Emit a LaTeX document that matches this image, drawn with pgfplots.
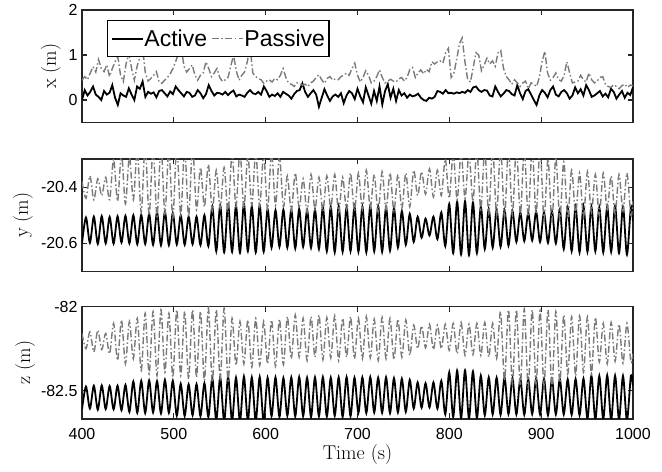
\documentclass[border=0pt]{standalone}
\usepackage{fontspec}
\newfontfamily\arial{Liberation Sans}
\usepackage{pgfplots}
\usepackage{pgfplotstable}
\pgfplotsset{compat=1.18}
\definecolor{axgray}{rgb}{0.15,0.15,0.15}
\definecolor{pgray}{rgb}{0.48,0.48,0.48}

\pgfplotstableread{
t xa xp
400 0.00 0.44
403 0.22 0.52
406 0.10 0.45
409 0.18 0.60
412 0.30 0.74
415 0.12 0.62
418 0.07 0.90
421 0.00 0.70
424 0.20 0.63
427 0.12 0.78
430 0.16 0.52
433 0.33 0.70
436 0.05 0.85
439 -0.11 0.96
442 0.15 0.55
445 0.10 0.41
448 0.07 0.80
451 0.26 1.04
454 0.12 0.70
457 0.00 0.44
460 0.30 0.75
463 0.25 0.95
466 0.41 1.15
469 0.07 0.60
472 0.18 0.42
475 0.14 0.48
478 0.17 0.55
481 0.06 0.63
484 0.20 0.40
487 0.22 0.37
490 0.15 0.44
493 0.08 0.50
496 0.19 0.58
499 0.13 0.70
502 0.30 0.85
505 0.22 1.05
508 0.15 1.19
511 0.08 0.75
514 0.18 0.62
517 0.16 0.70
520 0.07 0.78
523 0.10 0.55
526 0.22 0.44
529 0.15 0.55
532 0.04 0.60
535 0.13 0.85
538 0.33 0.70
541 0.20 0.52
544 0.10 0.60
547 0.16 0.70
550 0.15 0.50
553 0.12 0.41
556 0.18 0.45
559 0.11 0.50
562 0.17 0.75
565 0.21 1.00
568 0.08 0.65
571 0.12 0.44
574 0.10 0.55
577 0.07 0.62
580 0.16 0.85
583 0.22 1.19
586 0.15 0.60
589 0.13 0.52
592 0.18 0.48
595 0.12 0.45
598 0.30 0.37
601 0.20 0.42
604 0.07 0.45
607 0.12 0.40
610 0.09 0.48
613 0.15 0.45
616 0.07 0.55
619 0.18 0.70
622 0.14 0.50
625 0.10 0.37
628 0.03 0.35
631 0.13 0.30
634 0.20 0.38
637 0.22 0.37
640 0.37 0.33
643 0.18 0.35
646 0.07 0.30
649 0.15 0.38
652 0.22 0.42
655 0.12 0.50
658 -0.15 0.56
661 0.05 0.45
664 0.24 0.37
667 0.10 0.48
670 -0.02 0.52
673 0.08 0.44
676 0.12 0.47
679 0.07 0.45
682 0.15 0.52
685 -0.07 0.55
688 0.10 0.60
691 0.20 0.55
694 0.15 0.70
697 0.02 0.82
700 0.25 0.55
703 0.08 0.40
706 -0.05 0.50
709 0.28 0.65
712 0.10 0.55
715 -0.08 0.38
718 0.20 0.42
721 -0.02 0.52
724 0.30 0.67
727 -0.10 0.50
730 0.20 0.38
733 0.35 0.42
736 0.05 0.46
739 0.25 0.42
742 -0.02 0.40
745 0.22 0.47
748 0.10 0.50
751 0.15 0.42
754 0.05 0.50
757 0.12 0.68
760 0.08 0.72
763 0.10 0.50
766 0.14 0.60
769 0.05 0.67
772 0.00 0.58
775 -0.02 0.68
778 0.05 0.63
781 0.03 0.85
784 0.07 0.80
787 0.20 0.85
790 0.18 0.87
793 0.14 0.82
796 0.22 1.05
799 0.15 1.15
802 0.16 0.50
805 0.14 0.60
808 0.17 0.90
811 0.15 1.25
814 0.18 1.38
817 0.16 0.85
820 0.22 0.45
823 0.18 0.40
826 0.28 0.72
829 0.30 1.05
832 0.22 1.00
835 0.18 0.65
838 0.22 0.78
841 0.21 0.93
844 0.10 0.80
847 0.08 0.87
850 0.30 0.75
853 0.18 1.05
856 0.08 1.10
859 0.14 0.70
862 0.22 0.52
865 0.20 0.45
868 0.13 0.35
871 0.10 0.45
874 0.33 0.38
877 0.15 0.30
880 0.02 0.38
883 0.20 0.42
886 0.24 0.25
889 0.12 0.38
892 0.00 0.35
895 -0.11 0.30
898 0.10 0.50
901 0.22 0.85
904 0.16 1.08
907 0.06 0.60
910 0.22 0.44
913 0.30 0.50
916 0.12 0.60
919 0.08 0.45
922 0.18 0.42
925 0.22 0.55
928 0.15 0.85
931 0.03 0.60
934 0.10 0.38
937 0.28 0.40
940 0.15 0.42
943 0.24 0.55
946 0.10 0.45
949 0.33 0.40
952 0.22 0.60
955 0.07 0.45
958 0.10 0.38
961 0.15 0.42
964 0.20 0.50
967 0.08 0.52
970 0.14 0.35
973 0.06 0.30
976 0.25 0.28
979 0.18 0.34
982 0.03 0.30
985 0.12 0.25
988 0.20 0.32
991 0.05 0.35
994 0.16 0.28
997 0.11 0.33
1000 0.28 0.32
}\tabX

\pgfplotstableread{
t ya yp za zp
400.0 -20.600 -20.380 -82.610 -82.160
404.3 -20.508 -20.440 -82.475 -82.250
408.6 -20.598 -20.360 -82.605 -82.150
412.9 -20.505 -20.445 -82.470 -82.270
417.2 -20.602 -20.370 -82.612 -82.140
421.5 -20.503 -20.430 -82.468 -82.255
425.8 -20.600 -20.365 -82.608 -82.160
430.1 -20.506 -20.445 -82.472 -82.280
434.4 -20.601 -20.300 -82.610 -82.100
438.7 -20.504 -20.450 -82.470 -82.320
443.0 -20.597 -20.280 -82.615 -82.080
447.3 -20.502 -20.460 -82.465 -82.340
451.6 -20.600 -20.290 -82.625 -82.090
455.9 -20.500 -20.445 -82.445 -82.310
460.2 -20.603 -20.270 -82.630 -82.070
464.5 -20.498 -20.490 -82.440 -82.380
468.8 -20.602 -20.250 -82.632 -82.040
473.1 -20.495 -20.500 -82.438 -82.400
477.4 -20.605 -20.260 -82.628 -82.030
481.7 -20.490 -20.505 -82.442 -82.410
486.0 -20.607 -20.250 -82.634 -82.020
490.3 -20.488 -20.495 -82.435 -82.390
494.6 -20.606 -20.265 -82.630 -82.040
498.9 -20.492 -20.510 -82.440 -82.420
503.2 -20.604 -20.250 -82.648 -82.020
507.5 -20.500 -20.500 -82.458 -82.410
511.8 -20.605 -20.260 -82.650 -82.030
516.1 -20.505 -20.505 -82.462 -82.430
520.4 -20.603 -20.255 -82.645 -82.020
524.7 -20.505 -20.480 -82.460 -82.420
529.0 -20.606 -20.330 -82.650 -82.030
533.3 -20.500 -20.470 -82.455 -82.440
537.6 -20.610 -20.320 -82.655 -82.010
541.9 -20.470 -20.485 -82.425 -82.450
546.2 -20.628 -20.340 -82.675 -82.020
550.5 -20.465 -20.475 -82.420 -82.430
554.8 -20.632 -20.330 -82.680 -82.010
559.1 -20.462 -20.490 -82.418 -82.440
563.4 -20.630 -20.280 -82.678 -82.070
567.7 -20.466 -20.470 -82.422 -82.350
572.0 -20.634 -20.270 -82.682 -82.090
576.3 -20.460 -20.475 -82.415 -82.340
580.6 -20.628 -20.285 -82.676 -82.080
584.9 -20.468 -20.465 -82.420 -82.360
589.2 -20.632 -20.275 -82.680 -82.070
593.5 -20.465 -20.470 -82.418 -82.350
597.8 -20.630 -20.280 -82.685 -82.090
602.1 -20.478 -20.480 -82.422 -82.340
606.4 -20.615 -20.275 -82.650 -82.080
610.7 -20.482 -20.465 -82.420 -82.355
615.0 -20.612 -20.290 -82.655 -82.075
619.3 -20.480 -20.470 -82.424 -82.345
623.6 -20.615 -20.360 -82.648 -82.060
627.9 -20.480 -20.485 -82.420 -82.310
632.2 -20.618 -20.350 -82.652 -82.050
636.5 -20.478 -20.475 -82.418 -82.300
640.8 -20.612 -20.370 -82.650 -82.070
645.1 -20.482 -20.490 -82.422 -82.320
649.4 -20.616 -20.355 -82.655 -82.060
653.7 -20.480 -20.480 -82.420 -82.300
658.0 -20.620 -20.365 -82.650 -82.050
662.3 -20.472 -20.485 -82.418 -82.315
666.6 -20.628 -20.360 -82.652 -82.065
670.9 -20.470 -20.475 -82.422 -82.305
675.2 -20.632 -20.355 -82.648 -82.055
679.5 -20.468 -20.490 -82.420 -82.320
683.8 -20.630 -20.365 -82.655 -82.070
688.1 -20.472 -20.480 -82.418 -82.300
692.4 -20.628 -20.350 -82.650 -82.060
696.7 -20.470 -20.485 -82.422 -82.310
701.0 -20.630 -20.350 -82.630 -82.070
705.3 -20.470 -20.480 -82.420 -82.310
709.6 -20.632 -20.340 -82.632 -82.060
713.9 -20.468 -20.475 -82.418 -82.305
718.2 -20.628 -20.355 -82.628 -82.075
722.5 -20.470 -20.490 -82.422 -82.320
726.8 -20.630 -20.345 -82.630 -82.065
731.1 -20.472 -20.480 -82.420 -82.310
735.4 -20.626 -20.350 -82.632 -82.070
739.7 -20.475 -20.485 -82.425 -82.315
744.0 -20.615 -20.355 -82.628 -82.075
748.3 -20.485 -20.475 -82.428 -82.300
752.6 -20.605 -20.350 -82.625 -82.080
756.9 -20.495 -20.470 -82.435 -82.290
761.2 -20.595 -20.340 -82.605 -82.110
765.5 -20.505 -20.430 -82.450 -82.250
769.8 -20.580 -20.345 -82.600 -82.115
774.1 -20.512 -20.425 -82.455 -82.245
778.4 -20.572 -20.335 -82.598 -82.105
782.7 -20.505 -20.435 -82.450 -82.255
787.0 -20.585 -20.340 -82.605 -82.110
791.3 -20.490 -20.430 -82.440 -82.250
795.6 -20.610 -20.300 -82.640 -82.105
799.9 -20.460 -20.440 -82.390 -82.260
804.2 -20.635 -20.280 -82.655 -82.100
808.5 -20.452 -20.445 -82.380 -82.280
812.8 -20.640 -20.275 -82.662 -82.095
817.1 -20.450 -20.440 -82.378 -82.290
821.4 -20.642 -20.280 -82.665 -82.105
825.7 -20.455 -20.450 -82.385 -82.285
830.0 -20.635 -20.270 -82.660 -82.100
834.3 -20.470 -20.480 -82.410 -82.290
838.6 -20.620 -20.265 -82.645 -82.095
842.9 -20.478 -20.495 -82.420 -82.300
847.2 -20.615 -20.260 -82.640 -82.100
851.5 -20.480 -20.500 -82.422 -82.310
855.8 -20.612 -20.255 -82.642 -82.030
860.1 -20.482 -20.505 -82.420 -82.440
864.4 -20.608 -20.260 -82.638 -82.020
868.7 -20.485 -20.500 -82.425 -82.460
873.0 -20.595 -20.255 -82.640 -82.020
877.3 -20.490 -20.500 -82.430 -82.470
881.6 -20.592 -20.265 -82.642 -82.015
885.9 -20.492 -20.505 -82.432 -82.480
890.2 -20.590 -20.260 -82.638 -82.020
894.5 -20.488 -20.495 -82.428 -82.460
898.8 -20.595 -20.255 -82.640 -82.025
903.1 -20.490 -20.515 -82.430 -82.470
907.4 -20.598 -20.300 -82.645 -82.020
911.7 -20.486 -20.520 -82.432 -82.480
916.0 -20.600 -20.295 -82.640 -82.030
920.3 -20.480 -20.515 -82.430 -82.450
924.6 -20.620 -20.310 -82.640 -82.050
928.9 -20.472 -20.510 -82.432 -82.400
933.2 -20.628 -20.340 -82.642 -82.060
937.5 -20.470 -20.495 -82.430 -82.410
941.8 -20.632 -20.350 -82.645 -82.055
946.1 -20.468 -20.505 -82.428 -82.390
950.4 -20.630 -20.345 -82.665 -82.060
954.7 -20.470 -20.490 -82.410 -82.400
959.0 -20.628 -20.355 -82.670 -82.065
963.3 -20.472 -20.500 -82.412 -82.330
967.6 -20.632 -20.350 -82.668 -82.100
971.9 -20.470 -20.480 -82.408 -82.340
976.2 -20.630 -20.360 -82.672 -82.095
980.5 -20.468 -20.495 -82.410 -82.325
984.8 -20.635 -20.355 -82.670 -82.105
989.1 -20.470 -20.485 -82.412 -82.335
993.4 -20.640 -20.350 -82.675 -82.100
997.7 -20.472 -20.500 -82.410 -82.330
1000.0 -20.520 -20.450 -82.470 -82.280
}\tabYZ

\pgfplotsset{
  myaxis/.style={
    scale only axis, width=551bp, height=112.5bp,
    anchor=south west,
    xmin=400, xmax=1000, xtick={400,500,600,700,800,900,1000},
    tick align=inside, xtick pos=both, ytick pos=both,
    major tick length=5.5bp,
    axis line style={axgray, line width=1.3bp},
    every tick/.style={axgray, line width=1.1bp},
    tick label style={font=\arial\fontsize{16bp}{18bp}\selectfont},
    xticklabel style={yshift=-6bp},
    yticklabel style={xshift=-1bp},
    label style={font=\fontsize{20bp}{23bp}\selectfont},
  },
  act/.style={black, line width=1.8bp},
  pas/.style={pgray, line width=1.4bp, dash pattern=on 7bp off 2.5bp on 1.5bp off 2.5bp},
}

\begin{document}
\begin{tikzpicture}
\path[use as bounding box] (0,0) rectangle (662bp,472bp);
\begin{axis}[myaxis, at={(82bp,349.5bp)},
  ymin=-0.5, ymax=2, ytick={0,1,2}, yticklabels={0,1,2}, xticklabels={},
  ylabel={x (m)}, ylabel style={at={(axis description cs:-0.0563,0.5)}, anchor=center},
  legend columns=2,
  legend image code/.code={\draw[#1] (0bp,0bp) -- (31bp,0bp);},
  legend style={at={(axis description cs:0.0454,0.911)}, anchor=north west,
    font=\arial\fontsize{23bp}{26bp}\selectfont, draw=black, line width=1.3bp,
    inner xsep=3bp, inner ysep=2bp,
    nodes={inner xsep=1bp, inner ysep=7bp},
    /tikz/every even column/.append style={column sep=3bp}},
]
\addplot[act] table[x=t,y=xa]{\tabX};
\addplot[pas] table[x=t,y=xp]{\tabX};
\legend{Active,Passive}
\end{axis}
\begin{axis}[myaxis, at={(82bp,200.5bp)},
  ymin=-20.7, ymax=-20.3, ytick={-20.6,-20.4}, yticklabels={-20.6,-20.4}, xticklabels={},
  ylabel={y (m)}, ylabel style={at={(axis description cs:-0.1071,0.5)}, anchor=center},
]
\addplot[act, smooth] table[x=t,y=ya]{\tabYZ};
\addplot[pas, smooth] table[x=t,y=yp]{\tabYZ};
\end{axis}
\begin{axis}[myaxis, at={(82bp,53bp)},
  ymin=-82.667, ymax=-82, ytick={-82.5,-82}, yticklabels={-82.5,-82},
  xticklabels={400,500,600,700,800,900,1000},
  ylabel={z (m)}, ylabel style={at={(axis description cs:-0.1034,0.5)}, anchor=center},
  xlabel={Time (s)}, xlabel style={at={(axis description cs:0.5,-0.32)}, anchor=center},
]
\addplot[act, smooth] table[x=t,y=za]{\tabYZ};
\addplot[pas, smooth] table[x=t,y=zp]{\tabYZ};
\end{axis}
\end{tikzpicture}
\end{document}
